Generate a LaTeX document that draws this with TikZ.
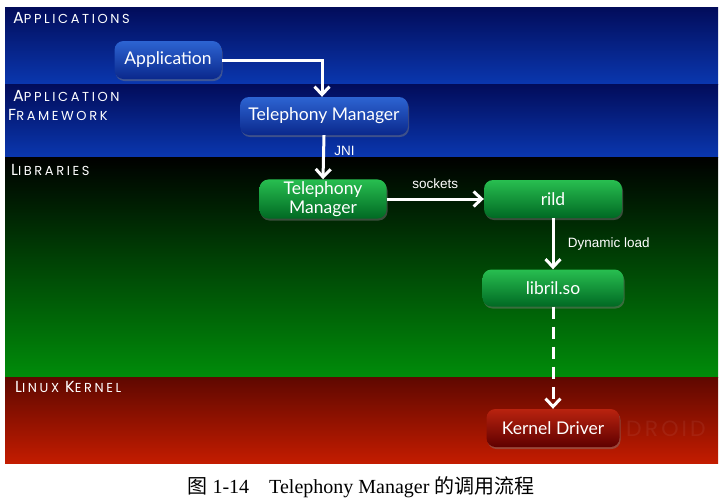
\documentclass[tikz,border=0pt]{standalone}
\usepackage{fontspec}
\setmainfont{Liberation Serif}
\newfontfamily\cjk{Noto Sans CJK SC}
\newfontfamily\nodefont{Lato}
\newfontfamily\capfont[LetterSpace=20]{Poppins}
\newfontfamily\wmfont[LetterSpace=14]{Poppins}
\newfontfamily\lblfont{Liberation Sans}
\usetikzlibrary{arrows.meta,shadows}
\definecolor{navyTop}{RGB}{2,12,90}
\definecolor{navyBot}{RGB}{10,55,175}
\definecolor{libTop}{RGB}{0,0,0}
\definecolor{libBot}{RGB}{0,140,10}
\definecolor{kerTop}{RGB}{95,8,0}
\definecolor{kerBot}{RGB}{195,28,0}
\definecolor{bnTop}{RGB}{45,100,210}
\definecolor{bnBot}{RGB}{10,40,140}
\definecolor{gnTop}{RGB}{40,190,80}
\definecolor{gnBot}{RGB}{0,105,35}
\definecolor{rnTop}{RGB}{185,35,15}
\definecolor{rnBot}{RGB}{95,0,0}
\tikzset{
  box/.style={rounded corners=9pt, minimum height=38pt, inner sep=2pt,
    text=white, font=\nodefont\fontsize{17.5}{19}\selectfont, align=center,
    drop shadow={opacity=0.45, shadow xshift=1pt, shadow yshift=-2pt}},
  bluebox/.style={box, top color=bnTop, bottom color=bnBot},
  greenbox/.style={box, top color=gnTop, bottom color=gnBot},
  redbox/.style={box, top color=rnTop, bottom color=rnBot},
  flow/.style={draw=white, line width=3pt, -{Straight Barb[length=8pt,width=15pt,line width=3pt]}},
  dflow/.style={flow, dash pattern=on 12pt off 8pt},
  lbl/.style={text=white, font=\lblfont\fontsize{13.5}{14}\selectfont},
  layer/.style={text=white, anchor=west, font=\capfont\fontsize{13}{13}\selectfont, inner sep=0pt},
}
\newcommand{\bigL}[1]{{\fontsize{16}{15}\selectfont #1}}
\begin{document}
\begin{tikzpicture}[x=1pt,y=-1pt]
\useasboundingbox (0,0) rectangle (723,501);
\fill[white] (0,0) rectangle (723,501);
% bands
\shade[top color=navyTop, bottom color=navyBot] (5,7) rectangle (718,84);
\shade[top color=navyTop, bottom color=navyBot] (5,84) rectangle (718,157);
\shade[top color=libTop, bottom color=libBot] (5,157) rectangle (718,377);
\shade[top color=kerTop, bottom color=kerBot] (5,377) rectangle (718,463);
% layer titles
\node[layer] (tApp) at (13,18) {\bigL{A}PPLICATIONS};
\node[layer] (tFw1) at (13,96) {\bigL{A}PPLICATION};
\node[layer] (tFw2) at (8,115) {\bigL{F}RAMEWORK};
\node[layer] (tLib) at (11,170) {\bigL{L}IBRARIES};
\node[layer] (tKer) at (15,387) {\bigL{L}INUX \bigL{K}ERNEL};
% watermark
\begin{scope}
\clip (600,377) rectangle (718,463);
\node[anchor=west, text=white, opacity=0.06, font=\wmfont\fontsize{22}{22}\selectfont, inner sep=0pt] (wm) at (626,429) {DROID};
\end{scope}
% nodes
\node[bluebox, minimum width=107pt] (app) at (168,60) {Application};
\node[bluebox, minimum width=168pt] (tmfw) at (324,116) {Telephony Manager};
\node[greenbox, minimum width=127pt] (tmlib) at (323,199) {Telephony\\Manager};
\node[greenbox, minimum width=138pt] (rild) at (553,199) {rild};
\node[greenbox, minimum width=141pt, minimum height=37pt] (libril) at (553,288) {libril.so};
\node[redbox, minimum width=133pt] (kd) at (553,428) {Kernel Driver};
% connectors
\draw[flow] (app.east) -| (tmfw.north -| 322,0);
\draw[flow] (tmfw.south) -- node[lbl, right=6pt, pos=0.35] (jni) {JNI} (tmlib.north);
\draw[flow] (tmlib.east) -- node[lbl, above=6pt] (sock) {sockets} (rild.west);
\draw[flow] (rild.south) -- node[lbl, right=10pt] (dyn) {Dynamic load} (libril.north);
\draw[dflow] (libril.south) -- (kd.north);
% caption
\node[font=\fontsize{20}{22}\selectfont, inner sep=0pt] (cap) at (361,487) {{\cjk 图} 1-14\quad Telephony Manager {\cjk 的调用流程}};
\end{tikzpicture}
\end{document}
